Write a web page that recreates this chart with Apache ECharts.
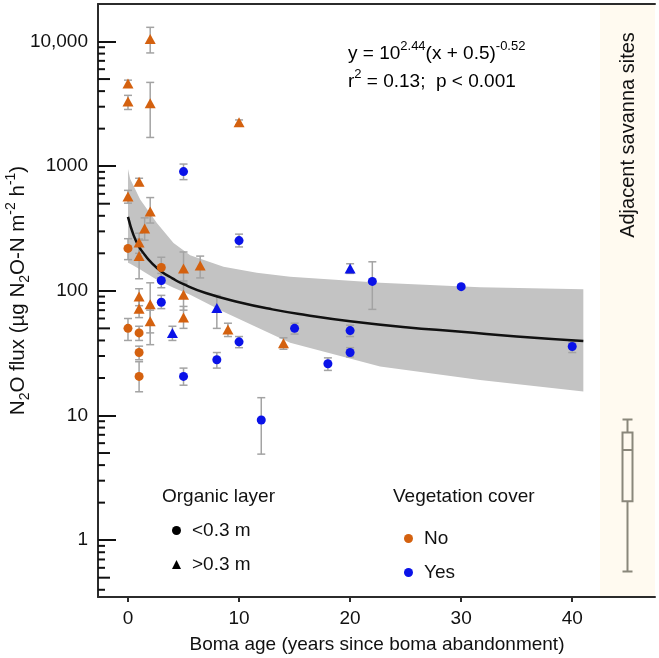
<!DOCTYPE html>
<html>
<head>
<meta charset="utf-8">
<script src="https://cdn.jsdelivr.net/npm/echarts@6/dist/echarts.min.js"></script>
<style>
  html, body { margin: 0; padding: 0; background: #fff; }
  #main { width: 659px; height: 658px; }
</style>
</head>
<body>
<div id="main"></div>
<script>
// boma sites: [age, flux, error low, error high]
var noThin = [
  [0, 219, 178, 262], [3, 154, 126, 186], [0, 50, 40, 60],
  [1, 46, 40, 52], [1, 32, 28, 36], [1, 20.6, 15.5, 27]
];
var noThick = [
  [0, 4600, 4300, 4900], [0, 3300, 2850, 3700], [2, 10500, 8100, 13000],
  [2, 3200, 1700, 4700], [10, 2250, 2150, 2350], [1, 750, 700, 800],
  [0, 570, 505, 640], [2, 433, 350, 560], [1.5, 316, 255, 385],
  [1, 244, 200, 290], [1, 190, 125, 260], [5, 151, 115, 205],
  [5, 93, 70, 120], [5, 61, 50, 75], [6.5, 160, 127, 190],
  [1, 90, 76, 104], [1, 72, 61, 85], [2, 78, 37, 116],
  [2, 57, 46, 70], [9, 49, 43, 55], [14, 38, 34, 42]
];
var yesThin = [
  [5, 905, 780, 1040], [3, 121, 106, 138], [3, 81, 72, 92],
  [10, 253, 225, 285], [10, 39, 35, 43], [8, 28, 24, 32],
  [5, 20.6, 17.5, 24], [12, 9.2, 4.9, 13.9], [15, 50, 45, 55],
  [18, 26, 23, 29], [20, 48, 43, 53], [20, 32, 29.5, 35],
  [22, 119, 71, 171], [30, 108, 105, 111], [40, 35.8, 32, 39]
];
var yesThick = [
  [4, 46, 40, 52], [8, 73, 50, 92], [20, 151, 138, 165]
];

// fitted curve and its band
var fitX = [0, 0.5, 1, 1.5, 2, 3, 4, 5, 7, 10, 13, 16, 20, 25, 30, 35, 41];
var fitY = [392, 280, 225, 195, 172, 143, 126, 113, 96, 81, 71, 64, 57, 51, 47, 43, 39.6];
var bandX = [0, 0.2, 1.1, 2.6, 4.1, 5.6, 8.6, 11.6, 14.6, 22.7, 31.7, 41];
var bandHigh = [950, 790, 540, 350, 242, 193, 156, 140, 130, 116, 107, 103];
var bandLow = [168, 165, 148, 123, 106, 93, 68, 51, 38.4, 24.7, 19.3, 15.6];

// adjacent savanna sites: min, Q1, median, Q3, max
var savanna = [0.56, 2.05, 5.3, 7.3, 9.3];

var xTicks = [0, 10, 20, 30, 40];
var yMin = 0.35, yMax = 20000;

var ORANGE = '#d4610f', BLUE = '#0a12e8', FONT = 'Liberation Sans';

var minorTicks = [];
for (var e = -1; e <= 4; e++) {
  for (var m = 2; m <= 9; m++) {
    var v = m * Math.pow(10, e);
    if (v > yMin && v < yMax) minorTicks.push([m, v]);
  }
}

var chart = echarts.init(document.getElementById('main'));

function errorBars(data) {
  return {
    type: 'custom', xAxisIndex: 0, yAxisIndex: 0, z: 2, silent: true,
    encode: { x: 0, y: 1 },
    data: data,
    renderItem: function (params, api) {
      var x = api.value(0);
      var lo = api.coord([x, api.value(2)]);
      var hi = api.coord([x, api.value(3)]);
      var w = 4, st = { stroke: '#a3a3a3', lineWidth: 1.5 };
      return { type: 'group', children: [
        { type: 'line', shape: { x1: lo[0], y1: lo[1], x2: hi[0], y2: hi[1] }, style: st },
        { type: 'line', shape: { x1: lo[0] - w, y1: lo[1], x2: lo[0] + w, y2: lo[1] }, style: st },
        { type: 'line', shape: { x1: hi[0] - w, y1: hi[1], x2: hi[0] + w, y2: hi[1] }, style: st }
      ] };
    }
  };
}

function points(name, data, symbol, color) {
  return {
    name: name, type: 'scatter', xAxisIndex: 0, yAxisIndex: 0, z: 4,
    symbol: symbol, symbolSize: symbol === 'circle' ? 9 : [11, 10],
    itemStyle: { color: color, opacity: 1 },
    data: data
  };
}

function legendSeries(name, symbol, color) {
  return { name: name, type: 'scatter', xAxisIndex: 0, yAxisIndex: 0, symbol: symbol,
    itemStyle: { color: color, opacity: 1 }, data: [] };
}

function richStyles(size, small) {
  return {
    n: { fontSize: size, fontFamily: FONT, color: '#111', lineHeight: 28, verticalAlign: 'middle' },
    sup: { fontSize: small, fontFamily: FONT, color: '#111', lineHeight: small, verticalAlign: 'top' },
    sub: { fontSize: small, fontFamily: FONT, color: '#111', lineHeight: small, verticalAlign: 'bottom' }
  };
}

var frame = { onZero: false, lineStyle: { color: '#2b2b2b', width: 2 } };

var option = {
  animation: false,
  textStyle: { fontFamily: FONT },
  grid: [
    { left: 98, top: 4, width: 502, height: 593, outerBoundsMode: 'none', containLabel: false },
    { left: 600, top: 4, width: 55, height: 593, outerBoundsMode: 'none', containLabel: false,
      show: true, backgroundColor: '#fffaf0', borderWidth: 0 }
  ],
  xAxis: [
    { gridIndex: 0, type: 'value', position: 'bottom', min: -2.7, max: 42.5,
      axisLine: frame,
      axisTick: { show: true, customValues: xTicks, length: 5, lineStyle: { color: '#2b2b2b', width: 2 } },
      axisLabel: { customValues: xTicks, fontSize: 19, color: '#111', margin: 12 },
      splitLine: { show: false },
      name: 'Boma age (years since boma abandonment)', nameLocation: 'middle', nameGap: 38,
      nameMoveOverlap: false,
      nameTextStyle: { fontSize: 19, color: '#111', padding: [0, 0, 0, 56] } },
    { gridIndex: 0, type: 'value', position: 'top', min: -2.7, max: 42.5,
      axisLine: frame, axisTick: { show: false }, axisLabel: { show: false }, splitLine: { show: false } },
    { gridIndex: 1, type: 'category', position: 'bottom', data: ['savanna'],
      axisLine: frame, axisTick: { show: false }, axisLabel: { show: false } },
    { gridIndex: 1, type: 'category', position: 'top', data: ['savanna'],
      axisLine: frame, axisTick: { show: false }, axisLabel: { show: false } }
  ],
  yAxis: [
    { gridIndex: 0, type: 'log', logBase: 10, min: yMin, max: yMax, position: 'left',
      axisLine: frame,
      axisTick: { show: true, inside: true, length: 18, lineStyle: { color: '#111', width: 2 } },
      axisLabel: { fontSize: 19, color: '#111', margin: 10, showMinLabel: false, showMaxLabel: false,
        formatter: function (v) { return v >= 10000 ? '10,000' : String(v); } },
      splitLine: { show: false },
      name: '{n|N}{sub|2}{n|O flux (µg N}{sub|2}{n|O-N m}{sup|-2}{n| h}{sup|-1}{n|)}',
      nameLocation: 'middle', nameGap: 66, nameRotate: 90, nameMoveOverlap: false,
      nameTextStyle: { rich: richStyles(20.5, 14), padding: [0, 0, 0, 20] } },
    { gridIndex: 1, type: 'log', logBase: 10, min: yMin, max: yMax, position: 'left',
      axisLine: { onZero: false, lineStyle: { color: '#c9ccd2', width: 2.5 } },
      axisTick: { show: false }, axisLabel: { show: false }, splitLine: { show: false } },
    { gridIndex: 1, type: 'log', logBase: 10, min: yMin, max: yMax, position: 'right',
      axisLine: frame, axisTick: { show: false }, axisLabel: { show: false }, splitLine: { show: false } }
  ],
  legend: [
    { data: ['<0.3 m', '>0.3 m'], orient: 'vertical', left: 167, top: 516,
      itemWidth: 9, itemHeight: 9, itemGap: 15, selectedMode: false,
      textStyle: { fontSize: 19, color: '#111', padding: [0, 0, 0, 6] } },
    { data: ['No', 'Yes'], orient: 'vertical', left: 399, top: 524,
      itemWidth: 9, itemHeight: 9, itemGap: 15, selectedMode: false,
      textStyle: { fontSize: 19, color: '#111', padding: [0, 0, 0, 6] } }
  ],
  graphic: [
    { type: 'text', left: 348, top: 40, silent: true,
      style: { rich: richStyles(19, 13),
        text: '{n|y = 10}{sup|2.44}{n|(x + 0.5)}{sup|-0.52}\n{n|r}{sup|2}{n| = 0.13;  p < 0.001}' } },
    { type: 'text', left: 162, top: 487, silent: true,
      style: { text: 'Organic layer', fontSize: 19, fill: '#111', fontFamily: FONT } },
    { type: 'text', left: 393, top: 487, silent: true,
      style: { text: 'Vegetation cover', fontSize: 19, fill: '#111', fontFamily: FONT } },
    { type: 'text', x: 628, y: 135, rotation: Math.PI / 2, silent: true,
      style: { text: 'Adjacent savanna sites', fontSize: 20, fill: '#111', fontFamily: FONT,
        align: 'center', verticalAlign: 'middle' } }
  ],
  series: [
    { type: 'custom', xAxisIndex: 0, yAxisIndex: 0, z: 1, silent: true,
      encode: { x: 0, y: 1 },
      data: bandX.map(function (x, i) { return [x, bandLow[i], bandHigh[i]]; }),
      renderItem: function (params, api) {
        if (params.dataIndexInside !== 0) return null;
        var n = params.dataInsideLength, top = [], bottom = [];
        for (var i = 0; i < n; i++) {
          top.push(api.coord([api.value(0, i), api.value(2, i)]));
          bottom.push(api.coord([api.value(0, i), api.value(1, i)]));
        }
        return { type: 'polygon', shape: { points: top.concat(bottom.reverse()) },
          style: { fill: '#c3c3c3' } };
      } },
    { type: 'line', xAxisIndex: 0, yAxisIndex: 0, z: 3, silent: true, smooth: true,
      showSymbol: false, lineStyle: { color: '#111', width: 2.5 },
      data: fitX.map(function (x, i) { return [x, fitY[i]]; }) },
    // minor ticks of the log axis at 2..9 of each decade
    { type: 'custom', xAxisIndex: 0, yAxisIndex: 0, z: 5, silent: true,
      encode: { y: 1 },
      data: minorTicks,
      renderItem: function (params, api) {
        var p = api.coord([-2.7, api.value(1)]);
        var len = api.value(0) === 5 ? 12 : 7;
        return { type: 'line', shape: { x1: p[0], y1: p[1], x2: p[0] + len, y2: p[1] },
          style: { stroke: '#111', lineWidth: 2 } };
      } },
    errorBars(noThin), errorBars(noThick), errorBars(yesThin), errorBars(yesThick),
    points('No, <0.3 m', noThin, 'circle', ORANGE),
    points('No, >0.3 m', noThick, 'triangle', ORANGE),
    points('Yes, <0.3 m', yesThin, 'circle', BLUE),
    points('Yes, >0.3 m', yesThick, 'triangle', BLUE),
    legendSeries('<0.3 m', 'circle', '#000'),
    legendSeries('>0.3 m', 'triangle', '#000'),
    legendSeries('No', 'circle', ORANGE),
    legendSeries('Yes', 'circle', BLUE),
    { type: 'boxplot', xAxisIndex: 2, yAxisIndex: 1, silent: true,
      boxWidth: [10, 10],
      itemStyle: { color: 'transparent', borderColor: '#8a877b', borderWidth: 2 },
      data: [savanna] }
  ]
};
chart.setOption(option);
</script>
</body>
</html>
